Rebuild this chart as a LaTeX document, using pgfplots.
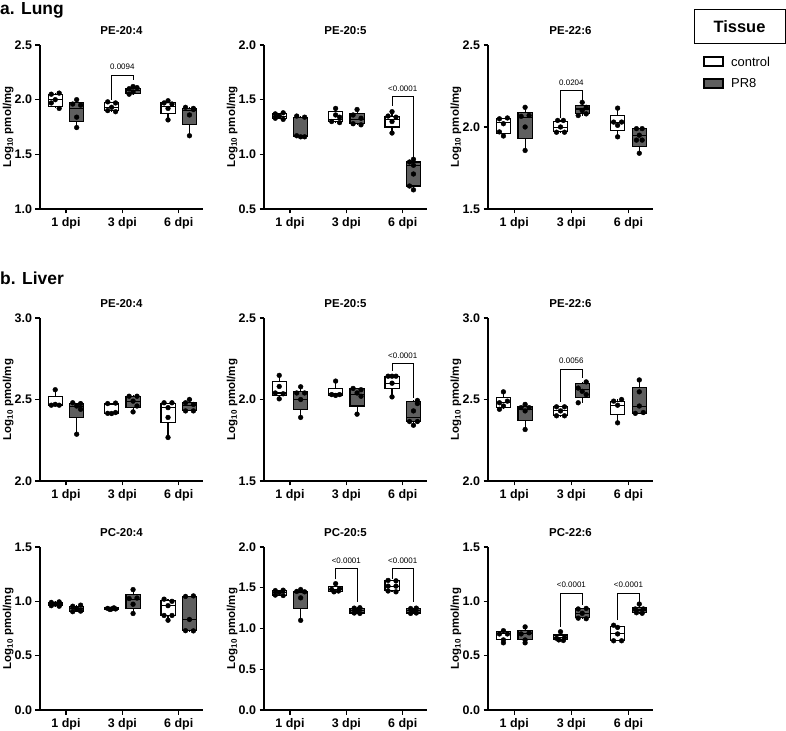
\documentclass[border=0pt]{standalone}
\usepackage{pgfplots}
\pgfplotsset{compat=1.18}
\usepackage{fontspec}
\setmainfont{Liberation Sans}
\definecolor{pr}{RGB}{95,95,95}
\newcommand\tk{\bfseries\fontsize{12.5}{14}\selectfont}
\newcommand\sig{\fontsize{8}{9}\selectfont}
% box: #1 position, #2 min, #3 q1, #4 median, #5 q3, #6 max, #7 fill
\newcommand\bx[7]{%
  \pgfmathsetmacro\xa{#1-0.125}\pgfmathsetmacro\xb{#1+0.125}%
  \addplot[black, line width=1.1bp, mark=none] coordinates {(#1,#2)(#1,#3)};
  \addplot[black, line width=1.1bp, mark=none] coordinates {(#1,#5)(#1,#6)};
  \edef\tmp{\noexpand\addplot[draw=black, line width=1.1bp, fill=#7, mark=none] coordinates {(\xa,#3)(\xb,#3)(\xb,#5)(\xa,#5)} -- cycle;
  \noexpand\addplot[black, line width=1.1bp, mark=none] coordinates {(\xa,#4)(\xb,#4)};}\tmp}
\newcommand\pts[1]{\addplot[only marks, mark=*, mark size=2.4bp, black, mark options={draw=black, fill=black}] coordinates {#1};}
\newcommand\br[7]{\addplot[black, line width=0.6bp, mark=none] coordinates {(#1,#2)(#1,#3)(#4,#3)(#4,#5)};
  \node[font=\sig, anchor=center] at (axis cs:{(#1+#4)/2},#6) {#7};}
\pgfplotsset{panel/.style={
  scale only axis, width=163bp, height=163bp, anchor=south west,
  xmin=0.54, xmax=3.43,
  axis x line*=bottom, axis y line*=left,
  axis line style={line width=1.3bp, -},
  xtick={1,2,3}, xticklabels={1 dpi,3 dpi,6 dpi},
  tick align=outside, major tick length=4.5bp,
  every tick/.style={black, line width=1.2bp},
  ticklabel style={font=\tk},
  clip=false,
  title style={font=\bfseries\fontsize{11.5}{13}\selectfont, at={(0.5,1)}, anchor=base, yshift=5bp},
  ylabel={Log\textsubscript{10} pmol/mg},
  ylabel style={font=\bfseries\fontsize{11.5}{13}\selectfont, at={(axis description cs:-0.195,0.5)}, anchor=center},
}}
\begin{document}
\begin{tikzpicture}
\useasboundingbox (0,0) rectangle (786bp,731bp);
\node[anchor=base west, font=\bfseries\fontsize{17.5}{20}\selectfont, inner sep=0pt] at (0bp,716bp) {a. Lung};
\node[anchor=base west, font=\bfseries\fontsize{17.5}{20}\selectfont, inner sep=0pt] at (0bp,446bp) {b. Liver};
% legend
\draw[line width=1bp] (694bp,721bp) rectangle (785bp,687bp);
\node[font=\bfseries\fontsize{16.5}{18}\selectfont] at (739.5bp,704bp) {Tissue};
\draw[line width=2bp, fill=white] (704bp,674bp) rectangle (723bp,665bp);
\draw[line width=2bp, fill=pr] (704bp,652bp) rectangle (723bp,643bp);
\node[anchor=west, font=\fontsize{13}{15}\selectfont, inner sep=0pt] at (731bp,669.5bp) {control};
\node[anchor=west, font=\fontsize{13}{15}\selectfont, inner sep=0pt] at (731bp,647.5bp) {PR8};

% ---------- Lung PE-20:4
\begin{axis}[panel, height=164bp, at={(40bp,522bp)}, title={PE-20:4}, ymin=1, ymax=2.5, ytick={1,1.5,2,2.5}, yticklabels={1.0,1.5,2.0,2.5}]
\bx{0.81}{1.92}{1.94}{2.0}{2.05}{2.06}{white}
\bx{1.19}{1.745}{1.80}{1.92}{1.97}{2.0}{pr}
\bx{1.81}{1.89}{1.90}{1.93}{1.97}{1.98}{white}
\bx{2.19}{2.045}{2.06}{2.08}{2.10}{2.12}{pr}
\bx{2.81}{1.815}{1.87}{1.94}{1.97}{1.99}{white}
\bx{3.19}{1.67}{1.77}{1.90}{1.92}{1.93}{pr}
\pts{(0.74,2.05)(0.88,2.06)(0.81,2.0)(0.74,1.97)(0.88,1.92)
(1.19,2.0)(1.12,1.96)(1.26,1.95)(1.19,1.84)(1.19,1.745)
(1.74,1.98)(1.88,1.97)(1.81,1.93)(1.74,1.90)(1.88,1.89)
(2.19,2.12)(2.12,2.10)(2.26,2.11)(2.19,2.07)(2.12,2.05)
(2.81,1.99)(2.74,1.97)(2.88,1.96)(2.81,1.92)(2.81,1.815)
(3.12,1.93)(3.26,1.92)(3.19,1.86)(3.19,1.67)(3.26,1.91)}
\br{1.81}{2.00}{2.225}{2.19}{2.18}{2.30}{0.0094}
\end{axis}

% ---------- Lung PE-20:5
\begin{axis}[panel, height=164bp, at={(264bp,522bp)}, title={PE-20:5}, ymin=0.5, ymax=2, ytick={0.5,1,1.5,2}, yticklabels={0.5,1.0,1.5,2.0}]
\bx{0.81}{1.32}{1.33}{1.35}{1.37}{1.38}{white}
\bx{1.19}{1.16}{1.16}{1.17}{1.34}{1.35}{pr}
\bx{1.81}{1.29}{1.30}{1.32}{1.39}{1.42}{white}
\bx{2.19}{1.27}{1.28}{1.32}{1.37}{1.41}{pr}
\bx{2.81}{1.195}{1.25}{1.32}{1.35}{1.39}{white}
\bx{3.19}{0.675}{0.71}{0.90}{0.93}{0.955}{pr}
\pts{(0.74,1.37)(0.88,1.38)(0.81,1.35)(0.74,1.33)(0.88,1.32)
(1.12,1.35)(1.26,1.34)(1.12,1.17)(1.26,1.16)(1.19,1.16)
(1.81,1.42)(1.74,1.30)(1.88,1.29)(1.81,1.36)(1.88,1.34)
(2.19,1.41)(2.12,1.36)(2.26,1.33)(2.12,1.28)(2.26,1.27)
(2.81,1.39)(2.74,1.35)(2.88,1.34)(2.81,1.30)(2.81,1.195)
(3.19,0.955)(3.12,0.93)(3.19,0.90)(3.19,0.82)(3.12,0.71)(3.19,0.675)}
\br{2.81}{1.446}{1.532}{3.19}{0.98}{1.60}{<0.0001}
\end{axis}

% ---------- Lung PE-22:6
\begin{axis}[panel, height=164bp, width=165bp, at={(488bp,522bp)}, title={PE-22:6}, ymin=1.5, ymax=2.5, ytick={1.5,2,2.5}, yticklabels={1.5,2.0,2.5}]
\bx{0.81}{1.945}{1.96}{2.03}{2.05}{2.055}{white}
\bx{1.19}{1.857}{1.93}{2.06}{2.09}{2.12}{pr}
\bx{1.81}{1.965}{1.97}{1.995}{2.035}{2.04}{white}
\bx{2.19}{2.07}{2.08}{2.11}{2.13}{2.15}{pr}
\bx{2.81}{1.94}{1.98}{2.03}{2.07}{2.115}{white}
\bx{3.19}{1.84}{1.88}{1.95}{1.99}{1.995}{pr}
\pts{(0.74,2.05)(0.88,2.055)(0.81,2.02)(0.74,1.97)(0.81,1.945)
(1.19,2.12)(1.12,2.065)(1.19,2.0)(1.19,1.857)(1.26,2.07)
(1.76,2.04)(1.86,2.04)(1.81,2.00)(1.74,1.968)(1.88,1.968)
(2.19,2.15)(2.26,2.12)(2.19,2.10)(2.12,2.07)(2.26,2.08)
(2.81,2.115)(2.74,2.03)(2.88,2.03)(2.81,2.01)(2.81,1.94)
(3.14,1.99)(3.24,1.99)(3.19,1.95)(3.24,1.92)(3.14,1.92)(3.19,1.84)}
\br{1.81}{2.055}{2.225}{2.19}{2.157}{2.27}{0.0204}
\end{axis}

% ---------- Liver PE-20:4
\begin{axis}[panel, at={(40bp,250bp)}, title={PE-20:4}, ymin=2, ymax=3, ytick={2,2.5,3}, yticklabels={2.0,2.5,3.0}]
\bx{0.81}{2.46}{2.465}{2.47}{2.52}{2.56}{white}
\bx{1.19}{2.287}{2.39}{2.455}{2.475}{2.48}{pr}
\bx{1.81}{2.414}{2.415}{2.47}{2.475}{2.478}{white}
\bx{2.19}{2.424}{2.45}{2.49}{2.52}{2.525}{pr}
\bx{2.81}{2.267}{2.36}{2.45}{2.478}{2.48}{white}
\bx{3.19}{2.43}{2.43}{2.465}{2.48}{2.50}{pr}
\pts{(0.81,2.56)(0.74,2.465)(0.88,2.465)(0.81,2.47)
(1.12,2.48)(1.26,2.475)(1.19,2.46)(1.26,2.44)(1.19,2.287)
(1.74,2.475)(1.88,2.478)(1.74,2.415)(1.81,2.414)(1.88,2.42)
(2.12,2.52)(2.26,2.52)(2.19,2.49)(2.26,2.46)(2.19,2.424)
(2.74,2.48)(2.88,2.48)(2.81,2.45)(2.81,2.39)(2.81,2.267)
(3.19,2.50)(3.12,2.48)(3.26,2.47)(3.12,2.43)(3.26,2.43)}
\end{axis}

% ---------- Liver PE-20:5
\begin{axis}[panel, at={(264bp,250bp)}, title={PE-20:5}, ymin=1.5, ymax=2.5, ytick={1.5,2,2.5}, yticklabels={1.5,2.0,2.5}]
\bx{0.81}{2.004}{2.025}{2.04}{2.11}{2.148}{white}
\bx{1.19}{1.89}{1.94}{2.0}{2.05}{2.078}{pr}
\bx{1.81}{2.02}{2.025}{2.035}{2.07}{2.113}{white}
\bx{2.19}{1.91}{1.96}{2.03}{2.065}{2.068}{pr}
\bx{2.81}{2.016}{2.065}{2.10}{2.14}{2.143}{white}
\bx{3.19}{1.842}{1.865}{1.89}{1.99}{1.994}{pr}
\pts{(0.81,2.148)(0.81,2.08)(0.74,2.04)(0.88,2.035)(0.81,2.004)
(1.19,2.078)(1.26,2.04)(1.19,2.0)(1.12,2.04)(1.19,1.89)
(1.81,2.113)(1.74,2.03)(1.88,2.03)(1.81,2.025)
(2.12,2.068)(2.26,2.06)(2.19,2.04)(2.26,2.02)(2.19,1.91)
(2.74,2.143)(2.81,2.143)(2.88,2.143)(2.81,2.10)(2.81,2.016)
(3.26,1.994)(3.26,1.975)(3.19,1.93)(3.12,1.865)(3.26,1.865)(3.19,1.842)}
\br{2.81}{2.174}{2.225}{3.19}{2.01}{2.27}{<0.0001}
\end{axis}

% ---------- Liver PE-22:6
\begin{axis}[panel, width=165bp, at={(488bp,250bp)}, title={PE-22:6}, ymin=2, ymax=3, ytick={2,2.5,3}, yticklabels={2.0,2.5,3.0}]
\bx{0.81}{2.44}{2.45}{2.48}{2.51}{2.547}{white}
\bx{1.19}{2.316}{2.37}{2.44}{2.455}{2.47}{pr}
\bx{1.81}{2.395}{2.40}{2.43}{2.455}{2.455}{white}
\bx{2.19}{2.48}{2.515}{2.56}{2.598}{2.608}{pr}
\bx{2.81}{2.357}{2.41}{2.465}{2.49}{2.50}{white}
\bx{3.19}{2.415}{2.415}{2.455}{2.575}{2.62}{pr}
\pts{(0.81,2.547)(0.74,2.48)(0.88,2.49)(0.81,2.46)(0.74,2.44)
(1.19,2.47)(1.12,2.45)(1.26,2.45)(1.19,2.43)(1.19,2.316)
(1.74,2.455)(1.88,2.455)(1.81,2.43)(1.74,2.40)(1.88,2.40)
(2.26,2.608)(2.12,2.57)(2.19,2.55)(2.26,2.53)(2.12,2.48)
(2.74,2.49)(2.88,2.50)(2.81,2.465)(2.81,2.357)
(3.19,2.62)(3.19,2.547)(3.19,2.46)(3.12,2.415)(3.26,2.42)}
\br{1.81}{2.486}{2.686}{2.19}{2.633}{2.74}{0.0056}
\end{axis}

% ---------- Liver PC-20:4
\begin{axis}[panel, at={(40bp,21bp)}, title={PC-20:4}, ymin=0, ymax=1.5, ytick={0,0.5,1,1.5}, yticklabels={0.0,0.5,1.0,1.5}]
\bx{0.81}{0.955}{0.96}{0.975}{0.99}{1.0}{white}
\bx{1.19}{0.903}{0.91}{0.93}{0.955}{0.965}{pr}
\bx{1.81}{0.92}{0.925}{0.93}{0.94}{0.945}{white}
\bx{2.19}{0.888}{0.935}{1.02}{1.06}{1.108}{pr}
\bx{2.81}{0.826}{0.87}{0.96}{1.01}{1.02}{white}
\bx{3.19}{0.728}{0.73}{0.83}{1.045}{1.05}{pr}
\pts{(0.74,0.99)(0.88,0.995)(0.81,0.975)(0.74,0.96)(0.88,0.955)
(1.12,0.955)(1.26,0.965)(1.19,0.93)(1.12,0.905)(1.26,0.91)
(1.74,0.935)(1.81,0.93)(1.88,0.93)(1.78,0.925)(1.85,0.94)
(2.19,1.108)(2.12,1.026)(2.26,1.03)(2.19,0.973)(2.19,0.888)
(2.74,1.02)(2.88,1.0)(2.81,0.96)(2.74,0.87)(2.88,0.87)(2.81,0.826)
(3.12,1.045)(3.26,1.05)(3.19,0.833)(3.12,0.73)(3.26,0.728)}
\end{axis}

% ---------- Liver PC-20:5
\begin{axis}[panel, at={(264bp,21bp)}, title={PC-20:5}, ymin=0, ymax=2, ytick={0,0.5,1,1.5,2}, yticklabels={0.0,0.5,1.0,1.5,2.0}]
\bx{0.81}{1.405}{1.41}{1.44}{1.465}{1.47}{white}
\bx{1.19}{1.10}{1.245}{1.44}{1.455}{1.478}{pr}
\bx{1.81}{1.44}{1.45}{1.48}{1.51}{1.55}{white}
\bx{2.19}{1.185}{1.19}{1.22}{1.25}{1.26}{pr}
\bx{2.81}{1.45}{1.47}{1.52}{1.585}{1.59}{white}
\bx{3.19}{1.185}{1.19}{1.22}{1.245}{1.255}{pr}
\pts{(0.74,1.465)(0.88,1.47)(0.81,1.44)(0.74,1.41)(0.88,1.405)
(1.19,1.478)(1.12,1.455)(1.26,1.45)(1.19,1.376)(1.19,1.10)
(1.81,1.55)(1.74,1.48)(1.88,1.49)(1.78,1.45)(1.86,1.46)
(2.14,1.25)(2.24,1.255)(2.19,1.22)(2.14,1.19)(2.24,1.185)
(2.74,1.59)(2.88,1.585)(2.74,1.52)(2.88,1.52)(2.74,1.46)(2.88,1.45)
(3.14,1.245)(3.24,1.25)(3.19,1.22)(3.14,1.185)(3.24,1.19)}
\br{1.81}{1.604}{1.735}{2.19}{1.327}{1.83}{<0.0001}
\br{2.81}{1.61}{1.735}{3.19}{1.327}{1.83}{<0.0001}
\end{axis}

% ---------- Liver PC-22:6
\begin{axis}[panel, width=165bp, at={(488bp,21bp)}, title={PC-22:6}, ymin=0, ymax=1.5, ytick={0,0.5,1,1.5}, yticklabels={0.0,0.5,1.0,1.5}]
\bx{0.81}{0.618}{0.645}{0.70}{0.72}{0.73}{white}
\bx{1.19}{0.618}{0.645}{0.70}{0.735}{0.765}{pr}
\bx{1.81}{0.64}{0.645}{0.67}{0.69}{0.72}{white}
\bx{2.19}{0.84}{0.85}{0.89}{0.93}{0.935}{pr}
\bx{2.81}{0.635}{0.64}{0.70}{0.77}{0.78}{white}
\bx{3.19}{0.89}{0.895}{0.92}{0.94}{0.975}{pr}
\pts{(0.81,0.73)(0.74,0.70)(0.88,0.70)(0.81,0.645)(0.81,0.618)
(1.19,0.765)(1.12,0.70)(1.26,0.71)(1.19,0.645)(1.19,0.618)
(1.81,0.72)(1.74,0.66)(1.88,0.665)(1.78,0.645)(1.86,0.64)
(2.12,0.93)(2.26,0.935)(2.19,0.89)(2.12,0.845)(2.26,0.84)
(2.74,0.78)(2.81,0.76)(2.81,0.70)(2.74,0.637)(2.88,0.637)
(3.19,0.975)(3.12,0.93)(3.26,0.93)(3.14,0.895)(3.24,0.89)}
\br{1.81}{0.765}{1.071}{2.19}{0.97}{1.148}{<0.0001}
\br{2.81}{0.827}{1.071}{3.19}{0.995}{1.148}{<0.0001}
\end{axis}
\end{tikzpicture}
\end{document}
